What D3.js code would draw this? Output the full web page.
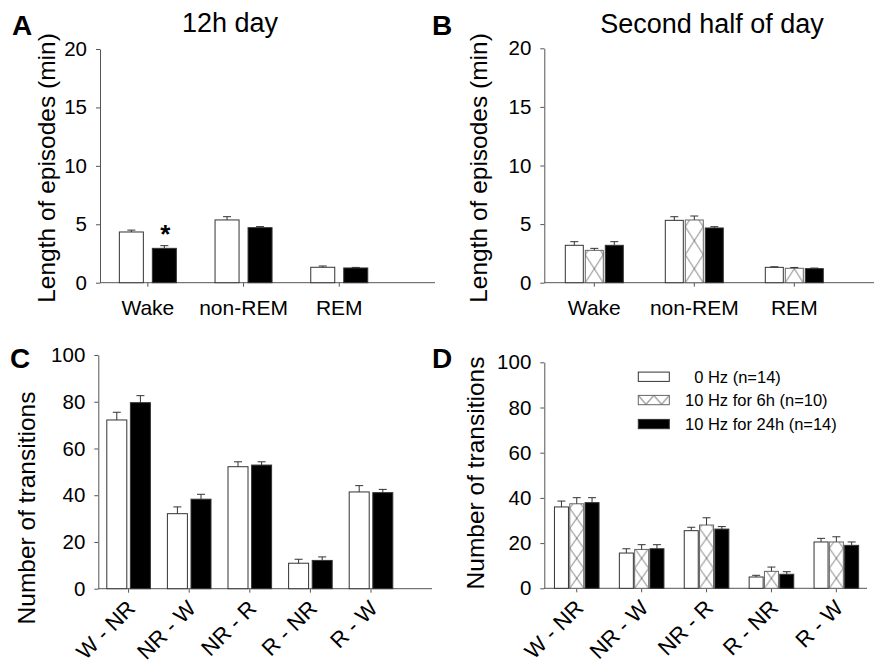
<!DOCTYPE html>
<html>
<head>
<meta charset="utf-8">
<script src="https://cdn.jsdelivr.net/npm/d3@7"></script>
<style>
  body { margin: 0; background: #fff; }
  svg { font-family: "Liberation Sans", Arial, sans-serif; }
</style>
</head>
<body>
<svg id="chart" width="874" height="663"></svg>
<script>
// categories
var stageCats = ["Wake", "non-REM", "REM"];
var transCats = ["W - NR", "NR - W", "NR - R", "R - NR", "R - W"];
var seriesNames = ["\u00a0\u00a00 Hz (n=14)", "10 Hz for 6h (n=10)", "10 Hz for 24h (n=14)"];
var seriesKind = ["open", "hatch", "solid"];

// A: 12h day, episode length (min)
var dayCtrl = [4.34, 5.37, 1.32];
var dayCtrlErr = [0.16, 0.28, 0.11];
var day24 = [2.94, 4.71, 1.26];
var day24Err = [0.23, 0.09, 0.05];
var dayStars = ["*", "", ""];

// B: second half of day, episode length (min)
var halfCtrl = [3.19, 5.32, 1.31];
var halfCtrlErr = [0.31, 0.31, 0.05];
var half6 = [2.76, 5.35, 1.23];
var half6Err = [0.17, 0.34, 0.07];
var half24 = [3.19, 4.67, 1.20];
var half24Err = [0.31, 0.11, 0.05];

// C: transitions, 12h day
var transCtrl = [72.2, 32.1, 52.2, 10.9, 41.4];
var transCtrlErr = [3.3, 2.9, 2.1, 1.7, 2.7];
var trans24 = [79.6, 38.3, 52.9, 12.1, 41.1];
var trans24Err = [3.0, 2.1, 1.4, 1.5, 1.4];

// D: transitions, second half of day
var transHalfCtrl = [36.0, 15.6, 25.5, 5.0, 20.5];
var transHalfCtrlErr = [2.6, 1.9, 1.5, 0.75, 1.6];
var transHalf6 = [37.4, 17.2, 28.0, 7.5, 20.5];
var transHalf6Err = [2.7, 2.1, 3.2, 1.9, 2.3];
var transHalf24 = [37.9, 17.5, 26.2, 6.2, 19.0];
var transHalf24Err = [2.2, 1.8, 1.1, 1.15, 1.5];

var lengthTicks = [0, 5, 10, 15, 20];
var transTicks = [0, 20, 40, 60, 80, 100];

var axisColor = "#555";
var svg = d3.select("#chart");
var defs = svg.append("defs");

var panels = [
  { letter: "A", title: "12h day", ylabel: "Length of episodes (min)",
    cats: stageCats, ticks: lengthTicks, rotate: false,
    series: [{ k: 0, v: dayCtrl, e: dayCtrlErr }, { k: 2, v: day24, e: day24Err, star: dayStars }],
    x0: 100, step: 95.7, xEnd: 435, yTop: 49, yBot: 282.7,
    barW: 24, barStep: 33, hatchH: 28,
    letterPos: [12, 35], titlePos: [230, 32], ylabPos: [46, 168] },
  { letter: "B", title: "Second half of day", ylabel: "Length of episodes (min)",
    cats: stageCats, ticks: lengthTicks, rotate: false,
    series: [{ k: 0, v: halfCtrl, e: halfCtrlErr }, { k: 1, v: half6, e: half6Err }, { k: 2, v: half24, e: half24Err }],
    x0: 544.3, step: 100, xEnd: 880, yTop: 48.3, yBot: 282.7,
    barW: 18, barStep: 20, hatchH: 28,
    letterPos: [432, 35], titlePos: [712, 33], ylabPos: [478, 168] },
  { letter: "C", title: null, ylabel: "Number of transitions",
    cats: transCats, ticks: transTicks, rotate: true,
    series: [{ k: 0, v: transCtrl, e: transCtrlErr }, { k: 2, v: trans24, e: trans24Err }],
    x0: 98.3, step: 60.6, xEnd: 432, yTop: 355, yBot: 588.7,
    barW: 20, barStep: 23.6, hatchH: 20,
    letterPos: [10, 368], titlePos: null, ylabPos: [26, 508] },
  { letter: "D", title: null, ylabel: "Number of transitions",
    cats: transCats, ticks: transTicks, rotate: true,
    series: [{ k: 0, v: transHalfCtrl, e: transHalfCtrlErr }, { k: 1, v: transHalf6, e: transHalf6Err }, { k: 2, v: transHalf24, e: transHalf24Err }],
    x0: 544.3, step: 64.9, xEnd: 867, yTop: 362.3, yBot: 588.3,
    barW: 14, barStep: 15.3, hatchH: 20,
    letterPos: [432, 368], titlePos: null, ylabPos: [475, 473], legend: true }
];

function addHatch(id, x, y, w, h) {
  var p = defs.append("pattern")
    .attr("id", id)
    .attr("patternUnits", "userSpaceOnUse")
    .attr("x", x).attr("y", y)
    .attr("width", w).attr("height", h);
  p.append("rect").attr("width", w).attr("height", h).attr("fill", "#fff");
  p.append("path")
    .attr("d", "M0,0L" + w + "," + h + "M" + w + ",0L0," + h)
    .attr("stroke", "#777").attr("stroke-width", 1).attr("fill", "none");
}

panels.forEach(function(P, pi) {
  var g = svg.append("g");
  var n = P.cats.length;

  var x = d3.scaleBand().domain(P.cats).range([P.x0, P.x0 + n * P.step]);
  var ymax = P.ticks[P.ticks.length - 1];
  var y = d3.scaleLinear().domain([0, ymax]).range([P.yBot, P.yTop]);

  var nS = P.series.length;
  var pad = (P.barStep - P.barW) / P.barStep;
  var xs = d3.scaleBand().domain(d3.range(nS))
    .range([-P.barStep * (nS - pad) / 2, P.barStep * (nS - pad) / 2])
    .paddingInner(pad);

  // y axis
  var yAxis = g.append("g")
    .attr("transform", "translate(" + P.x0 + ",0)")
    .call(d3.axisLeft(y).tickValues(P.ticks).tickSize(4).tickSizeOuter(0).tickPadding(9));
  yAxis.selectAll("path, line").attr("stroke", axisColor);
  yAxis.selectAll("text").attr("font-size", 20.5).attr("fill", "#000")
    .attr("font-family", "Liberation Sans, Arial, sans-serif");

  // x axis
  g.append("line")
    .attr("x1", P.x0).attr("x2", P.xEnd)
    .attr("y1", y(0)).attr("y2", y(0))
    .attr("stroke", axisColor);
  g.selectAll(".xtick").data(P.cats).enter().append("line")
    .attr("x1", function(d) { return x(d) + x.bandwidth() / 2; })
    .attr("x2", function(d) { return x(d) + x.bandwidth() / 2; })
    .attr("y1", y(0)).attr("y2", y(0) + 4)
    .attr("stroke", axisColor);

  if (P.rotate) {
    g.selectAll(".xlab").data(P.cats).enter().append("text")
      .attr("transform", function(d) {
        return "translate(" + (x(d) + x.bandwidth() / 2 + 8) + "," + (y(0) + 21) + ") rotate(-45)";
      })
      .attr("text-anchor", "end")
      .attr("font-size", 22)
      .text(function(d) { return d; });
  } else {
    g.selectAll(".xlab").data(P.cats).enter().append("text")
      .attr("x", function(d) { return x(d) + x.bandwidth() / 2; })
      .attr("y", 315)
      .attr("text-anchor", "middle")
      .attr("font-size", 21)
      .text(function(d) { return d; });
  }

  // bars
  P.series.forEach(function(s, si) {
    var kind = seriesKind[s.k];
    var bars = s.v.map(function(v, i) {
      return { cat: P.cats[i], v: v, e: s.e[i], star: s.star ? s.star[i] : "" };
    });
    var bx = function(d) { return x(d.cat) + x.bandwidth() / 2 + xs(si); };

    if (kind === "hatch") {
      bars.forEach(function(d, i) {
        addHatch("hatch-" + pi + "-" + i, bx(d), y(0), xs.bandwidth(), P.hatchH);
      });
    }

    g.selectAll(".bar-" + si).data(bars).enter().append("rect")
      .attr("x", bx)
      .attr("y", function(d) { return y(d.v); })
      .attr("width", xs.bandwidth())
      .attr("height", function(d) { return y(0) - y(d.v); })
      .attr("fill", function(d, i) {
        if (kind === "solid") return "#000";
        if (kind === "hatch") return "url(#hatch-" + pi + "-" + i + ")";
        return "#fff";
      })
      .attr("stroke", kind === "hatch" ? "#666" : "#333")
      .attr("stroke-width", 1);

    // error bars (upper only)
    g.selectAll(".err-" + si).data(bars).enter().append("path")
      .attr("d", function(d) {
        var cx = bx(d) + xs.bandwidth() / 2;
        var top = y(d.v + d.e);
        return "M" + cx + "," + y(d.v) + "V" + top + "M" + (cx - 4) + "," + top + "H" + (cx + 4);
      })
      .attr("stroke", "#333").attr("stroke-width", 1).attr("fill", "none");

    g.selectAll(".star-" + si).data(bars.filter(function(d) { return d.star; })).enter().append("text")
      .attr("x", function(d) { return bx(d) + xs.bandwidth() / 2 + 1; })
      .attr("y", function(d) { return y(d.v + d.e) - 3; })
      .attr("text-anchor", "middle")
      .attr("font-size", 26)
      .attr("font-weight", "bold")
      .text(function(d) { return d.star; });
  });

  // labels
  g.append("text")
    .attr("x", P.letterPos[0]).attr("y", P.letterPos[1])
    .attr("font-size", 28).attr("font-weight", "bold")
    .text(P.letter);
  if (P.title) {
    g.append("text")
      .attr("x", P.titlePos[0]).attr("y", P.titlePos[1])
      .attr("text-anchor", "middle")
      .attr("font-size", 27)
      .text(P.title);
  }
  g.append("text")
    .attr("transform", "translate(" + P.ylabPos[0] + "," + P.ylabPos[1] + ") rotate(-90)")
    .attr("text-anchor", "middle")
    .attr("dominant-baseline", "central")
    .attr("font-size", 24.5)
    .text(P.ylabel);

  // legend
  if (P.legend) {
    var lg = g.append("g");
    var rowY = [376.7, 400, 424];
    addHatch("hatch-legend", 638.3, rowY[1] - 4.6, 15.5, 18);
    seriesNames.forEach(function(name, i) {
      lg.append("rect")
        .attr("x", 638.3).attr("y", rowY[i] - 4.6)
        .attr("width", 31).attr("height", 9.3)
        .attr("fill", seriesKind[i] === "solid" ? "#000" : seriesKind[i] === "hatch" ? "url(#hatch-legend)" : "#fff")
        .attr("stroke", seriesKind[i] === "hatch" ? "#666" : "#333");
      lg.append("text")
        .attr("x", 685).attr("y", rowY[i] + 6)
        .attr("font-size", 16.5)
        .text(name);
    });
  }
});
</script>
</body>
</html>
